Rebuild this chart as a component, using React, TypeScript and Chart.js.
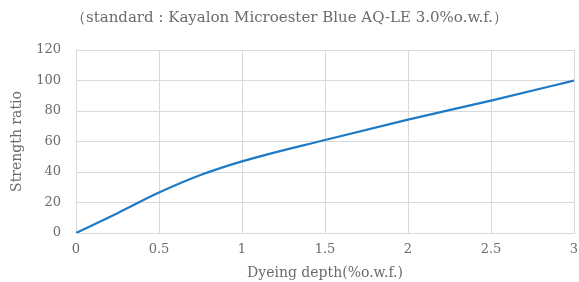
import React, { useEffect, useRef } from "react";
import { Chart, registerables } from "chart.js";

Chart.register(...registerables);

const depthValues = [0, 0.25, 0.5, 0.75, 1, 1.5, 2, 2.5, 3];
const strengthValues = [0, 13, 26.5, 38, 47, 61, 74.3, 86.8, 100];
const titleText = "（standard : Kayalon Microester Blue AQ-LE 3.0%o.w.f.）";
const xTitle = "Dyeing depth(%o.w.f.)";
const yTitle = "Strength ratio";

const FONT = "'DejaVu Serif', serif";
const GRAY = "#6b6b6b";

export default function App() {
  const ref = useRef<HTMLCanvasElement>(null);
  useEffect(() => {
    if (!ref.current) return;
    const chart = new Chart(ref.current, {
      type: "line",
      data: {
        datasets: [
          {
            data: depthValues.map((x, i) => ({ x, y: strengthValues[i] })),
            borderColor: "#1f7ac6",
            borderWidth: 2.2,
            pointRadius: 0,
            cubicInterpolationMode: "monotone",
            fill: false,
          },
        ],
      },
      options: {
        animation: false,
        responsive: false,
        maintainAspectRatio: false,
        layout: { padding: { left: 0, right: 0, top: 3, bottom: 0 } },
        plugins: {
          legend: { display: false },
          tooltip: { enabled: false },
          title: {
            display: true,
            text: titleText,
            color: GRAY,
            font: { family: FONT, size: 15, weight: "normal" },
            padding: { top: 6, bottom: 23 },
          },
        },
        scales: {
          x: {
            type: "linear",
            min: 0,
            max: 3,
            afterFit: (s: any) => {
              s.paddingRight = 5;
              s.height = 49;
            },
            ticks: {
              stepSize: 0.5,
              color: GRAY,
              font: { family: FONT, size: 13 },
              padding: 9,
              maxRotation: 0,
              callback: (v: any) => String(Number(v)),
            },
            grid: { color: "#d9d9d9", drawTicks: false, lineWidth: 1 },
            border: { color: "#d9d9d9" },
            title: {
              display: true,
              text: xTitle,
              color: GRAY,
              font: { family: FONT, size: 14 },
              padding: { top: 0, bottom: 0 },
            },
          },
          y: {
            min: 0,
            max: 120,
            afterFit: (s: any) => {
              s.width = 76;
            },
            ticks: {
              stepSize: 20,
              color: GRAY,
              font: { family: FONT, size: 13 },
              padding: 15,
            },
            grid: { color: "#d9d9d9", drawTicks: false, lineWidth: 1 },
            border: { color: "#d9d9d9" },
            title: {
              display: true,
              text: yTitle,
              color: GRAY,
              font: { family: FONT, size: 14 },
              padding: { top: 9, bottom: 0 },
            },
          },
        },
      },
    });
    return () => chart.destroy();
  }, []);
  return (
    <div style={{ position: "fixed", left: 0, top: 0, width: 579, height: 282, background: "#fff" }}>
      <canvas ref={ref} width={579} height={282} style={{ width: 579, height: 282 }} />
    </div>
  );
}
